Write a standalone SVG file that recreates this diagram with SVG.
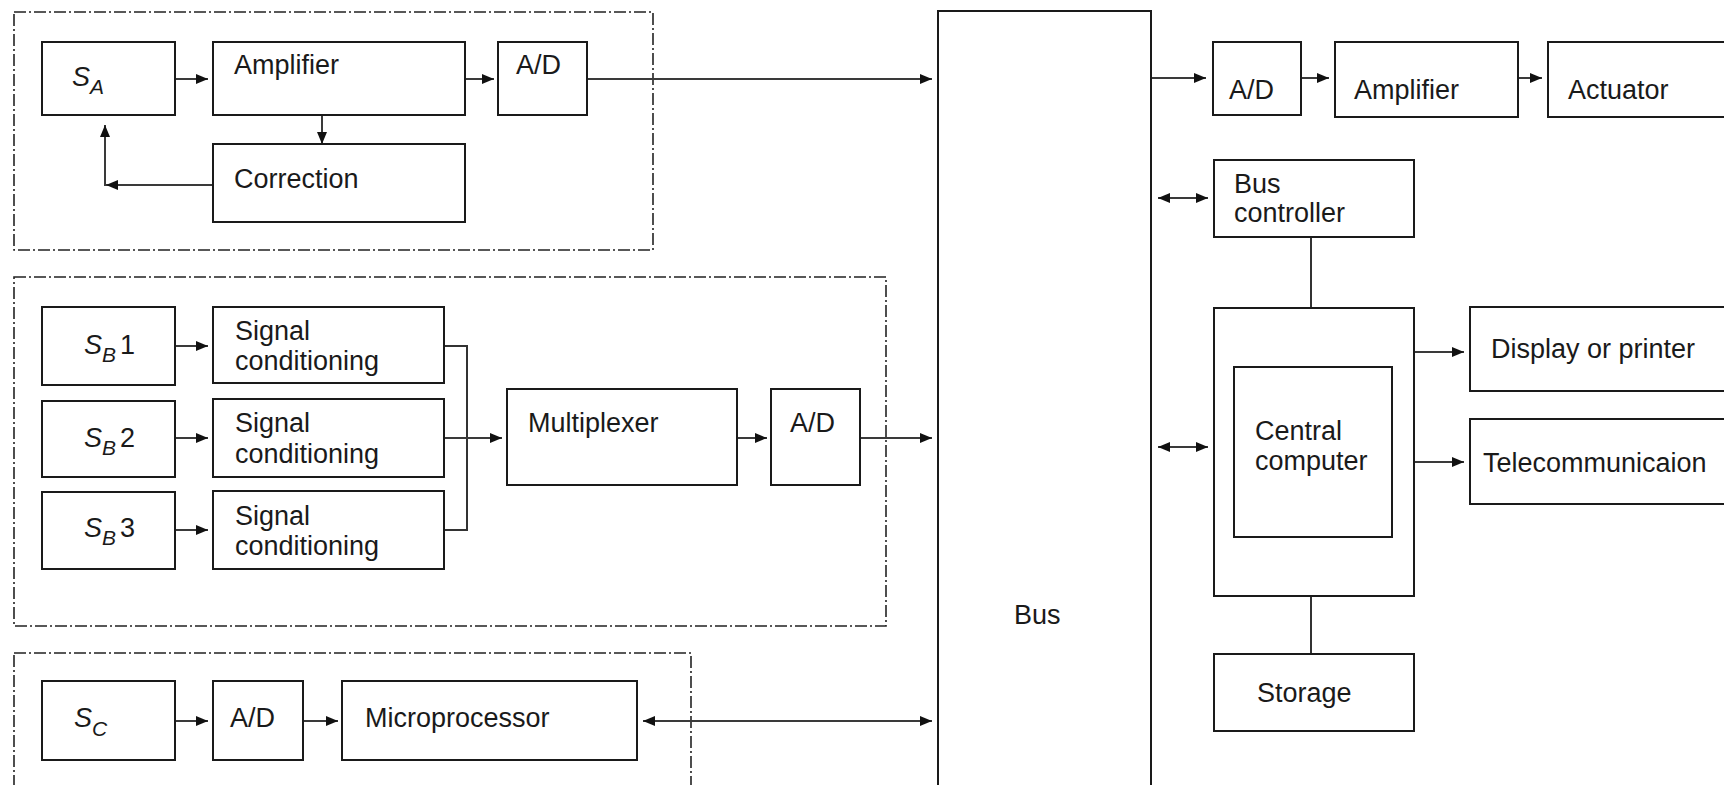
<svg xmlns="http://www.w3.org/2000/svg" width="1724" height="785" viewBox="0 0 1724 785">
<style>
.box{fill:#fff;stroke:#1a1a1a;stroke-width:2}
.grp{fill:none;stroke:#222;stroke-width:1.6;stroke-dasharray:12 3 2 3}
.ln{fill:none;stroke:#333;stroke-width:2}
.ar{fill:none;stroke:#3a3a3a;stroke-width:2;marker-end:url(#ah)}
.dar{fill:none;stroke:#3a3a3a;stroke-width:2;marker-end:url(#ah);marker-start:url(#ah)}
text{font-family:"Liberation Sans",Arial,sans-serif;font-size:27px;fill:#1a1a1a}
.it{font-style:italic}
</style>
<defs>
<marker id="ah" markerUnits="userSpaceOnUse" markerWidth="14" markerHeight="12" refX="12" refY="5.5" orient="auto-start-reverse">
<path d="M0,0.5 L12,5.5 L0,10.5 z" fill="#111"/>
</marker>
</defs>
<rect width="1724" height="785" fill="#fff"/>

<g id="groups">
<rect class="grp" x="14" y="12" width="639" height="238"/>
<rect class="grp" x="14" y="277" width="872" height="349"/>
<rect class="grp" x="14" y="653" width="677" height="160"/>
</g>

<g id="connectors">
<line class="ar" x1="175" y1="79" x2="208" y2="79"/>
<line class="ar" x1="465" y1="79" x2="494" y2="79"/>
<line class="ar" x1="587" y1="79" x2="932" y2="79"/>
<line class="ar" x1="322" y1="115" x2="322" y2="144"/>
<line class="ar" x1="213" y1="185" x2="106" y2="185"/>
<line class="ar" x1="105" y1="186" x2="105" y2="125"/>

<line class="ar" x1="175" y1="346" x2="208" y2="346"/>
<line class="ar" x1="175" y1="438" x2="208" y2="438"/>
<line class="ar" x1="175" y1="530" x2="208" y2="530"/>
<polyline class="ln" points="444,346 467,346 467,530 444,530"/>
<line class="ar" x1="444" y1="438" x2="502" y2="438"/>
<line class="ar" x1="737" y1="438" x2="767" y2="438"/>
<line class="ar" x1="860" y1="438" x2="932" y2="438"/>

<line class="ar" x1="175" y1="721" x2="208" y2="721"/>
<line class="ar" x1="303" y1="721" x2="338" y2="721"/>
<line class="dar" x1="643" y1="721" x2="932" y2="721"/>

<line class="ar" x1="1151" y1="78" x2="1206" y2="78"/>
<line class="ar" x1="1301" y1="78" x2="1329" y2="78"/>
<line class="ar" x1="1518" y1="78" x2="1542" y2="78"/>
<line class="dar" x1="1158" y1="198" x2="1208" y2="198"/>
<line class="ln" x1="1311" y1="237" x2="1311" y2="308"/>
<line class="dar" x1="1158" y1="447" x2="1208" y2="447"/>
<line class="ar" x1="1414" y1="352" x2="1464" y2="352"/>
<line class="ar" x1="1414" y1="462" x2="1464" y2="462"/>
<line class="ln" x1="1311" y1="596" x2="1311" y2="654"/>
</g>

<g id="SA"><rect class="box" x="42" y="42" width="133" height="73"/><text x="72" y="86" class="it">S<tspan font-size="21" dy="8">A</tspan></text></g>
<g id="ampA"><rect class="box" x="213" y="42" width="252" height="73"/><text x="234" y="74">Amplifier</text></g>
<g id="adA"><rect class="box" x="498" y="42" width="89" height="73"/><text x="516" y="74">A/D</text></g>
<g id="corr"><rect class="box" x="213" y="144" width="252" height="78"/><text x="234" y="188">Correction</text></g>

<g id="SB1"><rect class="box" x="42" y="307" width="133" height="78"/><text x="84" y="354"><tspan class="it">S</tspan><tspan class="it" font-size="21" dy="8">B</tspan><tspan dy="-8" dx="4">1</tspan></text></g>
<g id="SB2"><rect class="box" x="42" y="401" width="133" height="76"/><text x="84" y="447"><tspan class="it">S</tspan><tspan class="it" font-size="21" dy="8">B</tspan><tspan dy="-8" dx="4">2</tspan></text></g>
<g id="SB3"><rect class="box" x="42" y="492" width="133" height="77"/><text x="84" y="537"><tspan class="it">S</tspan><tspan class="it" font-size="21" dy="8">B</tspan><tspan dy="-8" dx="4">3</tspan></text></g>
<g id="sc1"><rect class="box" x="213" y="307" width="231" height="76"/><text x="235" y="340">Signal</text><text x="235" y="370">conditioning</text></g>
<g id="sc2"><rect class="box" x="213" y="399" width="231" height="78"/><text x="235" y="432">Signal</text><text x="235" y="463">conditioning</text></g>
<g id="sc3"><rect class="box" x="213" y="491" width="231" height="78"/><text x="235" y="525">Signal</text><text x="235" y="555">conditioning</text></g>
<g id="mux"><rect class="box" x="507" y="389" width="230" height="96"/><text x="528" y="432">Multiplexer</text></g>
<g id="adB"><rect class="box" x="771" y="389" width="89" height="96"/><text x="790" y="432">A/D</text></g>

<g id="SC"><rect class="box" x="42" y="681" width="133" height="79"/><text x="74" y="727" class="it">S<tspan font-size="21" dy="9">C</tspan></text></g>
<g id="adC"><rect class="box" x="213" y="681" width="90" height="79"/><text x="230" y="727">A/D</text></g>
<g id="micro"><rect class="box" x="342" y="681" width="295" height="79"/><text x="365" y="727">Microprocessor</text></g>

<g id="bus"><rect class="box" x="938" y="11" width="213" height="800"/><text x="1014" y="624">Bus</text></g>

<g id="adR"><rect class="box" x="1213" y="42" width="88" height="73"/><text x="1229" y="99">A/D</text></g>
<g id="ampR"><rect class="box" x="1335" y="42" width="183" height="75"/><text x="1354" y="99">Amplifier</text></g>
<g id="act"><rect class="box" x="1548" y="42" width="190" height="75"/><text x="1568" y="99">Actuator</text></g>
<g id="busctl"><rect class="box" x="1214" y="160" width="200" height="77"/><text x="1234" y="193">Bus</text><text x="1234" y="222">controller</text></g>
<g id="cpu"><rect class="box" x="1214" y="308" width="200" height="288"/><rect class="box" x="1234" y="367" width="158" height="170"/><text x="1255" y="440">Central</text><text x="1255" y="470">computer</text></g>
<g id="disp"><rect class="box" x="1470" y="307" width="270" height="84"/><text x="1491" y="358">Display or printer</text></g>
<g id="tele"><rect class="box" x="1470" y="419" width="270" height="85"/><text x="1483" y="472">Telecommunicaion</text></g>
<g id="stor"><rect class="box" x="1214" y="654" width="200" height="77"/><text x="1257" y="702">Storage</text></g>
</svg>
